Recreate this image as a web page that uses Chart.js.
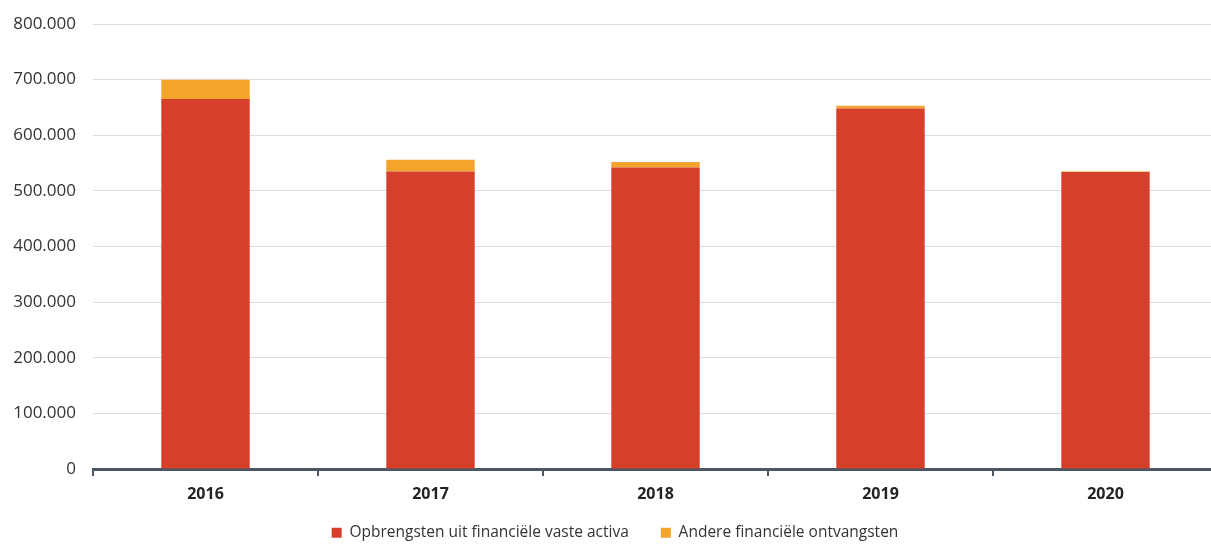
<!DOCTYPE html>
<html>
<head>
<meta charset="utf-8">
<script src="https://cdn.jsdelivr.net/npm/chart.js@4/dist/chart.umd.min.js"></script>
<style>
  html, body { margin: 0; padding: 0; background: #fff; overflow: hidden; }
  #wrap { width: 1218px; height: 547px; }
</style>
</head>
<body>
<div id="wrap"><canvas id="myChart"></canvas></div>
<script>
const years = ["2016", "2017", "2018", "2019", "2020"];
const opbrengsten = [665000, 535000, 542000, 648000, 534000];
const andere = [35000, 21000, 10000, 5000, 1000];
const legendNames = ["Opbrengsten uit financiële vaste activa", "Andere financiële ontvangsten"];

function dutchNumber(v) {
  return String(v).replace(/\B(?=(\d{3})+(?!\d))/g, ".");
}

// a bit more room after the first legend entry
const gap = "\u00a0".repeat(3);

new Chart(document.getElementById("myChart").getContext("2d"), {
  type: "bar",
  data: {
    labels: years,
    datasets: [
      {
        label: legendNames[0] + gap,
        data: opbrengsten,
        backgroundColor: "#d6402b"
      },
      {
        label: legendNames[1],
        data: andere,
        backgroundColor: "#f2a42c"
      }
    ]
  },
  options: {
    responsive: true,
    maintainAspectRatio: false,
    animation: false,
    layout: { padding: { top: 24, left: 12, right: 0, bottom: 2 } },
    datasets: { bar: { categoryPercentage: 1, barPercentage: 0.393 } },
    scales: {
      x: {
        stacked: true,
        grid: { color: "#4a5866", lineWidth: 2, drawOnChartArea: false, tickLength: 7, offset: true },
        border: { color: "#4a5866", width: 3 },
        ticks: { color: "#222", font: { family: "Open Sans", size: 16, weight: "bold" }, padding: 9 },
        afterFit: scale => { scale.height = 36; }
      },
      y: {
        stacked: true,
        min: 0,
        max: 800000,
        grid: { color: "#dcdcdc", lineWidth: 1, drawTicks: false },
        border: { display: false },
        ticks: {
          stepSize: 100000,
          color: "#333",
          padding: 17,
          font: { family: "Open Sans", size: 17 },
          callback: v => dutchNumber(v)
        },
        afterFit: scale => {
          scale.width = 81;
          scale.paddingTop = 0;
        }
      }
    },
    plugins: {
      legend: {
        position: "bottom",
        maxHeight: 40,
        labels: {
          boxWidth: 10,
          boxHeight: 10,
          padding: 20,
          color: "#333",
          font: { family: "Open Sans", size: 15.5 }
        }
      },
      tooltip: { enabled: false }
    }
  }
});
</script>
</body>
</html>
